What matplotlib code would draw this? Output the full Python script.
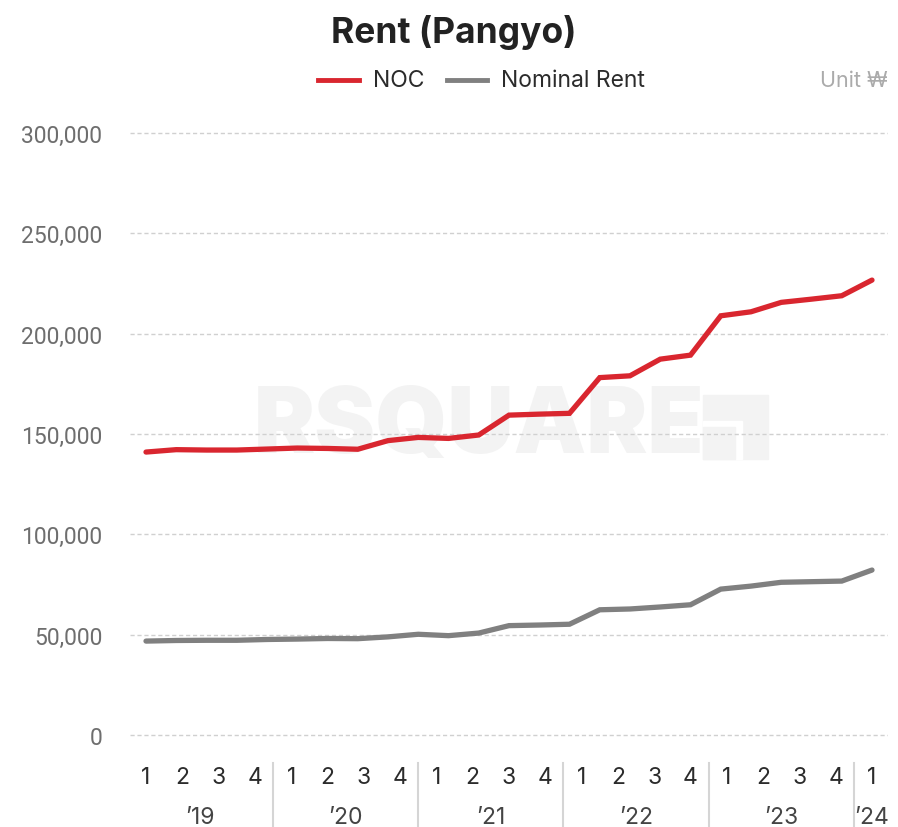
import numpy as np
import matplotlib
matplotlib.use("Agg")
import matplotlib.pyplot as plt
from matplotlib.transforms import blended_transform_factory
from matplotlib.patches import Rectangle

plt.rcParams['font.family'] = ['Inter', 'DejaVu Sans']

# quarter tick labels and year groups
quarter_labels = ['1', '2', '3', '4'] * 5 + ['1']
years = ["\u201919", "\u201920", "\u201921", "\u201922", "\u201923", "\u201924"]
year_quarters = [4, 4, 4, 4, 4, 1]

# series values (won)
noc = [141000, 142200, 142000, 142000, 142500, 143000, 142800, 142400,
       146700, 148300, 147800, 149500, 159400, 159900, 160300, 178100,
       179000, 187300, 189300, 208900, 210900, 215600, 217200, 218900, 226700]
nominal = [46800, 47100, 47200, 47200, 47600, 47800, 48100, 48000,
           48900, 50200, 49500, 50800, 54500, 54800, 55200, 62400,
           62800, 63800, 64900, 72700, 74200, 76100, 76400, 76700, 82200]

RED = '#d9262f'
GRAY = '#808080'
WM = '#f3f3f3'
W, H = 898, 828

fig = plt.figure(figsize=(W / 100, H / 100), dpi=100)

# axes placed so that 0 -> y=736px, 300,000 -> y=134px
ymin, ymax = -6000, 306000
ppu = 602 / 300000
bot_px = 736 + 6000 * ppu
top_px = 134 - 6000 * ppu
ax = fig.add_axes([130 / W, 1 - bot_px / H, 758 / W, (bot_px - top_px) / H])
ax.set_ylim(ymin, ymax)
nq = len(quarter_labels)
pad = 16 / 36.3
ax.set_xlim(-pad, nq - 1 + pad)

for s in ax.spines.values():
    s.set_visible(False)

yt = np.arange(0, 300001, 50000)
ax.set_yticks(yt)
ax.set_yticklabels([f"{v:,}" for v in yt], fontsize=16.5, color='#6e6e6e',
                   family=['Roboto', 'DejaVu Sans'])
ax.tick_params(axis='y', length=0, pad=20)
for v in yt:
    ax.axhline(v, color='#d0d0d0', lw=1, ls=(0, (3, 2)), zorder=1)

ax.set_xticks([])

# watermark
wm_y = 1 - 429 / H
fig.text(254 / W, wm_y, 'RSQUARE', fontsize=66, fontweight='black',
         color=WM, ha='left', va='center', zorder=-2)
fig.patches.append(Rectangle((703 / W, 1 - 460 / H), 65 / W, 64 / H,
                             transform=fig.transFigure, color=WM, zorder=-2))
fig.patches.append(Rectangle((703 / W, 1 - 460 / H), 39 / W, 38 / H,
                             transform=fig.transFigure, color='white', zorder=-2))
fig.patches.append(Rectangle((703 / W, 1 - 460 / H), 32 / W, 32 / H,
                             transform=fig.transFigure, color=WM, zorder=-2))
ax.patch.set_alpha(0)

# lines: series points spread over the full quarter span
xs = np.linspace(0, nq - 1, len(noc))
ax.plot(xs, nominal, color=GRAY, lw=3.8, solid_capstyle='round',
        solid_joinstyle='miter', zorder=3)
ax.plot(xs, noc, color=RED, lw=3.8, solid_capstyle='round',
        solid_joinstyle='miter', zorder=4)

# category axis labels
tr = blended_transform_factory(ax.transData, fig.transFigure)
for i, q in enumerate(quarter_labels):
    ax.text(i, 1 - 778 / H, q, transform=tr, ha='center', va='center',
            fontsize=16.5, color='#2b2b2b')
start = 0
for y, n in zip(years, year_quarters):
    mid = start + (n - 1) / 2
    ax.text(mid, 1 - 818 / H, y, transform=tr, ha='center', va='center',
            fontsize=16.5, color='#444444')
    if start > 0:
        ax.plot([start - 0.5, start - 0.5], [1 - 764 / H, 1.0 - 828 / H],
                transform=tr, color='#d5d5d5', lw=1.5, clip_on=False)
    start += n

# title, legend, unit
fig.text(454 / W, 1 - 32 / H, 'Rent (Pangyo)', fontsize=25.5, fontweight='bold',
         color='#222222', ha='center', va='center')
ly = 1 - 81 / H
fig.lines.append(plt.Line2D([318 / W, 359 / W], [ly, ly], color=RED, lw=3.5,
                            transform=fig.transFigure))
fig.text(373 / W, ly, 'NOC', fontsize=16.5, color='#2b2b2b', va='center', ha='left')
fig.lines.append(plt.Line2D([447 / W, 487 / W], [ly, ly], color=GRAY, lw=3.5,
                            transform=fig.transFigure))
fig.text(501 / W, ly, 'Nominal Rent', fontsize=16.5, color='#2b2b2b',
         va='center', ha='left')
fig.text(888 / W, ly, 'Unit \u20a9', fontsize=15.5, color='#ababab', va='center',
         ha='right', family=['Inter', 'DejaVu Sans'])

fig.savefig('out.png', dpi=100, facecolor='white')
